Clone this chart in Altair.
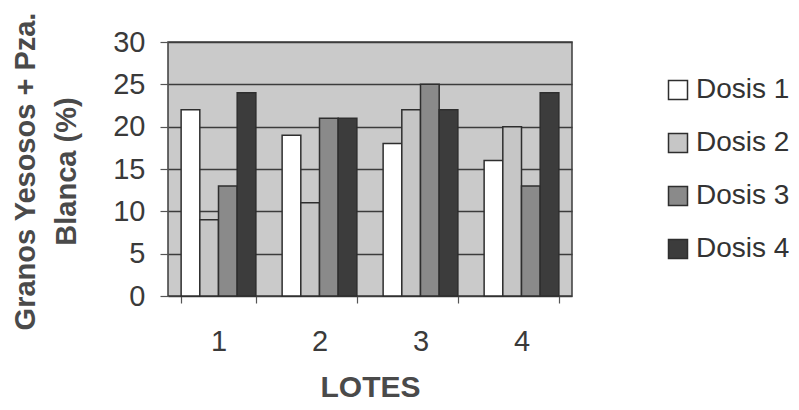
import altair as alt
import pandas as pd

lotes = ["1", "2", "3", "4"]
dosis = ["Dosis 1", "Dosis 2", "Dosis 3", "Dosis 4"]
dosis1 = [22, 19, 18, 16]
dosis2 = [9, 11, 22, 20]
dosis3 = [13, 21, 25, 13]
dosis4 = [24, 21, 22, 24]
colores = ["#ffffff", "#c6c6c6", "#8a8a8a", "#3c3c3c"]

rows = []
for serie, vals in zip(dosis, [dosis1, dosis2, dosis3, dosis4]):
    for lote, v in zip(lotes, vals):
        rows.append({"Lote": lote, "Dosis": serie, "Valor": v})
df = pd.DataFrame(rows)

FONT = "Liberation Sans"

chart = alt.Chart(df).mark_bar(stroke="#2e2e2e", strokeWidth=1.5).encode(
    x=alt.X("Lote:N", sort=lotes,
            scale=alt.Scale(paddingInner=0.26, paddingOuter=0.13),
            axis=alt.Axis(title="LOTES", labelAngle=0, tickBand="extent",
                          domain=False, grid=False, ticks=True, tickSize=7,
                          tickColor="#555555", tickWidth=1.2,
                          labelFontSize=29, labelColor="#3a3a3a", labelFont=FONT,
                          labelPadding=24, labelBaseline="top",
                          titleFontSize=30, titleFontWeight="bold", titleColor="#4a4a4a",
                          titleFont=FONT, titleBaseline="alphabetic", titleY=100)),
    xOffset=alt.XOffset("Dosis:N", sort=dosis, scale=alt.Scale(paddingInner=0, paddingOuter=0)),
    y=alt.Y("Valor:Q", scale=alt.Scale(domain=[0, 30], nice=False),
            axis=alt.Axis(title=["Granos Yesosos + Pza.", "Blanca (%)"], values=[0, 5, 10, 15, 20, 25, 30],
                          domain=False, grid=True, gridColor="#3c3c3c", gridWidth=1.5,
                          ticks=True, tickSize=8, tickColor="#555555", tickWidth=1.2,
                          labelFontSize=29, labelColor="#3a3a3a", labelFont=FONT,
                          labelPadding=15,
                          titleFontSize=29, titleFontWeight="bold", titleColor="#4a4a4a",
                          titleFont=FONT, titleLineHeight=41, titleBaseline="middle",
                          titleX=-143, titleY=129)),
    fill=alt.Fill("Dosis:N", sort=dosis, scale=alt.Scale(domain=dosis, range=colores),
                  legend=alt.Legend(title=None, orient="none", legendX=496, legendY=34,
                                    symbolType="square", symbolSize=361,
                                    symbolStrokeColor="#2e2e2e", symbolStrokeWidth=1.5,
                                    labelFontSize=28, labelFont=FONT, labelColor="#333333",
                                    labelOffset=4, rowPadding=25, padding=0)),
).properties(
    width=404, height=254,
    autosize=alt.AutoSizeParams(type="none"),
    padding={"left": 160, "top": 34, "right": 219, "bottom": 106},
).configure(
    background="#ffffff"
).configure_view(
    fill="#cacaca", stroke="#3c3c3c", strokeWidth=1.5
)

chart.save("out.html", embed_options={"renderer": "svg", "actions": False})
